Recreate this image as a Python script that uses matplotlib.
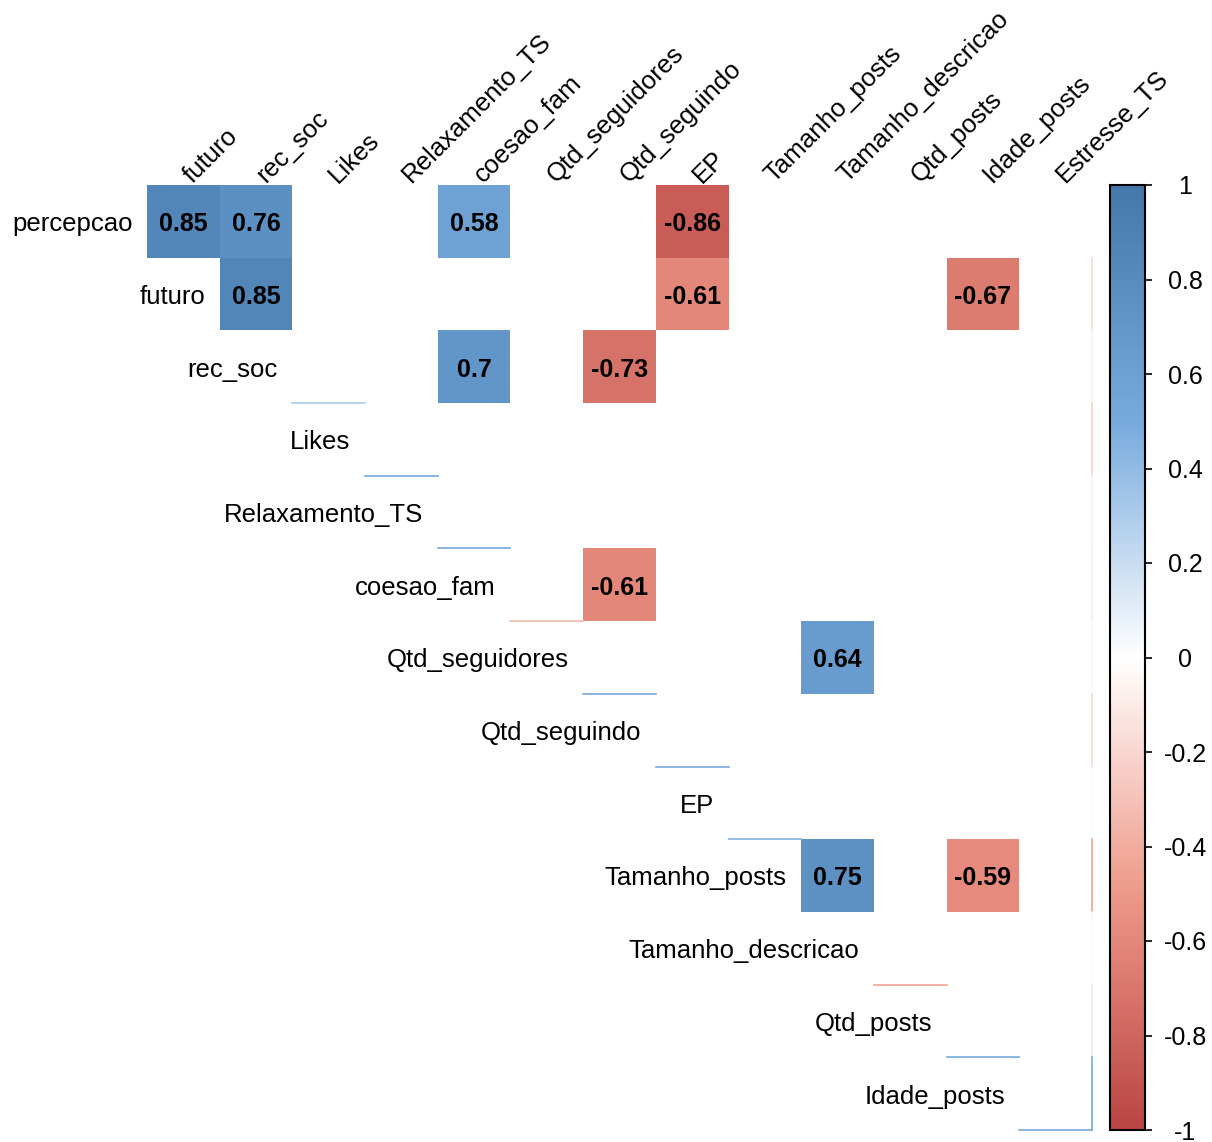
import matplotlib
matplotlib.use('Agg')
import matplotlib.pyplot as plt
import numpy as np
from matplotlib.colors import LinearSegmentedColormap, Normalize
from matplotlib.cm import ScalarMappable
from matplotlib.patches import Rectangle

plt.rcParams['font.family'] = ['Liberation Sans', 'DejaVu Sans']

row_vars = ['percepcao', 'futuro', 'rec_soc', 'Likes', 'Relaxamento_TS', 'coesao_fam',
            'Qtd_seguidores', 'Qtd_seguindo', 'EP', 'Tamanho_posts', 'Tamanho_descricao',
            'Qtd_posts', 'Idade_posts']
col_vars = ['futuro', 'rec_soc', 'Likes', 'Relaxamento_TS', 'coesao_fam', 'Qtd_seguidores',
            'Qtd_seguindo', 'EP', 'Tamanho_posts', 'Tamanho_descricao', 'Qtd_posts',
            'Idade_posts', 'Estresse_TS']

# significant correlations (p < 0.05)
sig_rows = ['percepcao', 'percepcao', 'percepcao', 'percepcao', 'futuro', 'futuro', 'futuro',
            'rec_soc', 'rec_soc', 'coesao_fam', 'Qtd_seguidores', 'Tamanho_posts', 'Tamanho_posts']
sig_cols = ['futuro', 'rec_soc', 'coesao_fam', 'EP', 'rec_soc', 'EP', 'Idade_posts',
            'coesao_fam', 'Qtd_seguindo', 'Qtd_seguindo', 'Tamanho_descricao',
            'Tamanho_descricao', 'Idade_posts']
sig_vals = [0.85, 0.76, 0.58, -0.86, 0.85, -0.61, -0.67, 0.7, -0.73, -0.61, 0.64, 0.75, -0.59]

# non-significant cells whose borders still leak through the blank mask
diag_edge_rows = ['rec_soc', 'Likes', 'Relaxamento_TS', 'coesao_fam', 'Qtd_seguidores',
                  'Qtd_seguindo', 'EP', 'Tamanho_descricao', 'Qtd_posts']
diag_edge_vals = [0.3, 0.5, 0.5, -0.35, 0.5, 0.5, 0.45, -0.45, 0.5]
estresse_vals = [0.0, -0.18, -0.08, -0.22, -0.08, 0.08, -0.05, -0.18, 0.02, -0.45, -0.03, 0.1, 0.5]

cbar_ticks = [1, 0.8, 0.6, 0.4, 0.2, 0, -0.2, -0.4, -0.6, -0.8, -1]
cbar_labels = ['1', '0.8', '0.6', '0.4', '0.2', '0', '-0.2', '-0.4', '-0.6', '-0.8', '-1']

cmap = LinearSegmentedColormap.from_list(
    'corr', ['#BB4444', '#EE9988', '#FFFFFF', '#77AADD', '#4477AA'], N=200)
norm = Normalize(-1, 1)

W, H = 1212, 1142
fig = plt.figure(figsize=(W / 100, H / 100), dpi=100)
ax = fig.add_axes([147 / W, 12 / H, 945 / W, 945 / H])
n = len(row_vars)
ax.set_xlim(0, n)
ax.set_ylim(n, 0)
ax.axis('off')

for r, c, v in zip(sig_rows, sig_cols, sig_vals):
    i = row_vars.index(r)
    j = col_vars.index(c)
    ax.add_patch(Rectangle((j, i), 1, 1, facecolor=cmap(norm(v)), edgecolor='none'))
    ax.text(j + 0.5, i + 0.54, f'{v:g}', ha='center', va='center',
            fontsize=18, fontweight='bold', color='black')

for r, v in zip(diag_edge_rows, diag_edge_vals):
    i = row_vars.index(r)
    ax.plot([i, i + 1], [i + 1, i + 1], color=cmap(norm(v)), lw=1.2, clip_on=False)

for i, v in enumerate(estresse_vals):
    ax.plot([n, n], [i, i + 1], color=cmap(norm(v)), lw=1.2, clip_on=False)
ax.plot([n - 1, n], [n, n], color=cmap(norm(estresse_vals[-1])), lw=1.2, clip_on=False)

# row labels sit just left of the first cell of each row
for i, name in enumerate(row_vars):
    ax.text(i - 0.2, i + 0.54, name, ha='right', va='center', fontsize=18.5, color='black')

# column labels on top, rotated 45 degrees
for j, name in enumerate(col_vars):
    ax.text(j + 0.63, -0.02, name, rotation=45, rotation_mode='anchor',
            ha='left', va='baseline', fontsize=18.5, color='black')

cax = fig.add_axes([1110 / W, 12 / H, 35 / W, 945 / H])
cb = fig.colorbar(ScalarMappable(norm=norm, cmap=cmap), cax=cax)
cb.set_ticks(cbar_ticks)
cb.set_ticklabels(cbar_labels)
cb.outline.set_linewidth(1.5)
cax.tick_params(axis='y', length=5, width=1.2, labelsize=18, pad=24)
for lab in cax.get_yticklabels():
    lab.set_horizontalalignment('center')

fig.savefig('out.png', dpi=100, facecolor='white')
